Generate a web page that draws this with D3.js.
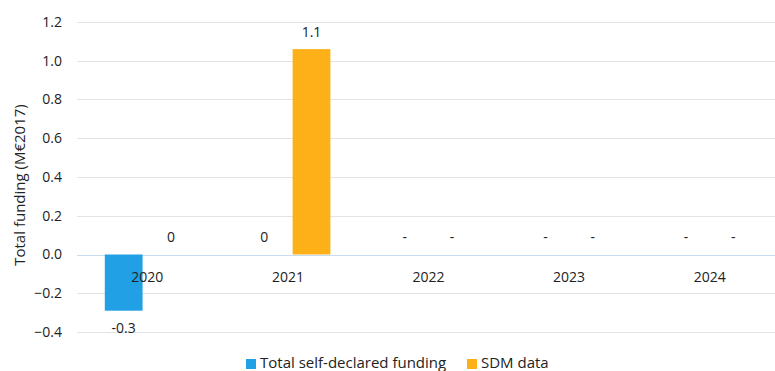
<!DOCTYPE html>
<html>
<head>
<meta charset="utf-8">
<script src="https://cdn.jsdelivr.net/npm/d3@7"></script>
<style>
  body { margin: 0; background: #fff; }
  svg text { font-family: "Open Sans", "Noto Sans", sans-serif; fill: #222; }
</style>
</head>
<body>
<div id="app"></div>
<script>
const years = ["2020", "2021", "2022", "2023", "2024"];
const seriesNames = ["Total self-declared funding", "SDM data"];
const selfDeclared = [-0.29, 0, null, null, null];
const sdmData = [0, 1.06, null, null, null];
const yTicks = [-0.4, -0.2, 0, 0.2, 0.4, 0.6, 0.8, 1.0, 1.2];
const colors = ["#21a0e6", "#fdb018"];

const full = { width: 775, height: 371 };
const plot = { left: 77, right: 780, top: 22, bottom: 332 };

const svg = d3.select("#app").append("svg")
  .attr("width", full.width)
  .attr("height", full.height);

const x = d3.scaleBand().domain(years).range([plot.left, plot.right]);
const xi = d3.scaleBand().domain([0, 1])
  .range([x.bandwidth() / 2 - 42.5, x.bandwidth() / 2 + 42.5])
  .paddingInner(0.2);
const y = d3.scaleLinear().domain([-0.4, 1.2]).range([plot.bottom, plot.top]);

// gridlines
svg.append("g").selectAll("line")
  .data(yTicks)
  .join("line")
  .attr("x1", plot.left).attr("x2", plot.right)
  .attr("y1", d => Math.round(y(d)) + 0.5).attr("y2", d => Math.round(y(d)) + 0.5)
  .attr("stroke", d => d === 0 ? "#c6dcf3" : "#e3e3e3")
  .attr("stroke-width", 1);

// y axis labels
svg.append("g").selectAll("text")
  .data(yTicks)
  .join("text")
  .attr("x", 62)
  .attr("y", d => y(d))
  .attr("dy", "0.35em")
  .attr("text-anchor", "end")
  .attr("font-size", 14)
  .text(d => d3.format(".1f")(d));

svg.append("text")
  .attr("transform", "translate(20,185) rotate(-90)")
  .attr("text-anchor", "middle")
  .attr("dy", "0.35em")
  .attr("font-size", 15)
  .text("Total funding (M€2017)");

const rows = years.map((yr, i) => ({ year: yr, values: [selfDeclared[i], sdmData[i]] }));

const groups = svg.append("g").selectAll("g")
  .data(rows)
  .join("g")
  .attr("transform", d => `translate(${x(d.year)},0)`);

groups.selectAll("rect")
  .data(d => d.values.map((v, k) => ({ v, k })).filter(e => e.v))
  .join("rect")
  .attr("x", e => xi(e.k))
  .attr("width", xi.bandwidth())
  .attr("y", e => y(Math.max(0, e.v)))
  .attr("height", e => Math.abs(y(e.v) - y(0)))
  .attr("fill", e => colors[e.k]);

groups.selectAll("text.val")
  .data(d => d.values.map((v, k) => ({ v, k })))
  .join("text")
  .attr("class", "val")
  .attr("x", e => xi(e.k) + xi.bandwidth() / 2)
  .attr("y", e => e.v === null ? y(0) - 17 : (e.v < 0 ? y(e.v) + 17 : y(e.v) - 17))
  .attr("dy", "0.35em")
  .attr("text-anchor", "middle")
  .attr("font-size", 14)
  .text(e => e.v === null ? "-" : String(+e.v.toFixed(1)));

// category labels
svg.append("g").selectAll("text")
  .data(years)
  .join("text")
  .attr("x", d => x(d) + x.bandwidth() / 2)
  .attr("y", y(0) + 23)
  .attr("dy", "0.35em")
  .attr("text-anchor", "middle")
  .attr("font-size", 14)
  .text(d => d);

// legend
const legendX = [246, 467];
const legend = svg.append("g").selectAll("g")
  .data(seriesNames)
  .join("g")
  .attr("transform", (d, i) => `translate(${legendX[i]},359)`);
legend.append("rect").attr("width", 10).attr("height", 10).attr("fill", (d, i) => colors[i]);
legend.append("text").attr("x", 14).attr("y", 4).attr("dy", "0.35em")
  .attr("font-size", 15).text(d => d);
</script>
</body>
</html>
